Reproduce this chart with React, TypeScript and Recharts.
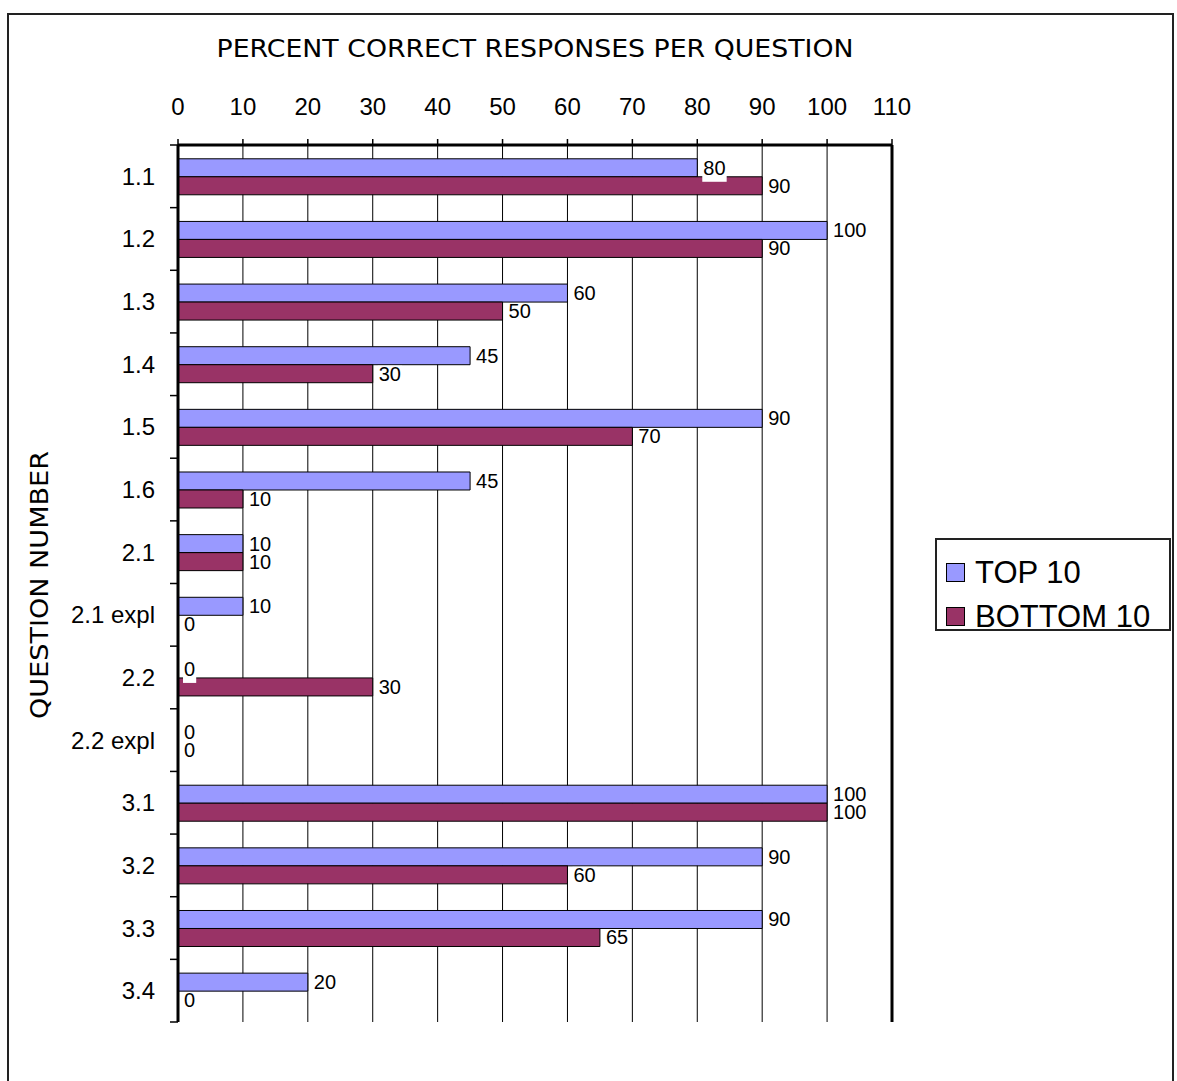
import { BarChart, Bar, XAxis, YAxis, CartesianGrid, LabelList, Legend, ReferenceLine } from 'recharts';

const QUESTIONS = ['1.1', '1.2', '1.3', '1.4', '1.5', '1.6', '2.1', '2.1 expl', '2.2', '2.2 expl', '3.1', '3.2', '3.3', '3.4'];
const TOP_10 = [80, 100, 60, 45, 90, 45, 10, 10, 0, 0, 100, 90, 90, 20];
const BOTTOM_10 = [90, 90, 50, 30, 70, 10, 10, 0, 30, 0, 100, 60, 65, 0];
const X_TICKS = [0, 10, 20, 30, 40, 50, 60, 70, 80, 90, 100, 110];
const SERIES = [
  { key: 'top', name: 'TOP 10', color: '#9999FF' },
  { key: 'bottom', name: 'BOTTOM 10', color: '#993366' },
];

const data = QUESTIONS.map((q, i) => ({ q, top: TOP_10[i], bottom: BOTTOM_10[i] }));

const ARIAL = '"Liberation Sans", Arial, sans-serif';
const TITLE_FONT = '"DejaVu Sans", "Comic Sans MS", sans-serif';

const W = 1177;
const H = 1081;
const LEGEND_W = 236;
const Y_TICK_SIZE = 8;
const Y_TICK_MARGIN = 15;

function QuestionTick(props: any) {
  const { x, y, payload, index } = props;
  const half = payload?.offset ?? 31.3;
  const axisX = x + Y_TICK_MARGIN + Y_TICK_SIZE;
  const last = index === QUESTIONS.length - 1;
  return (
    <g>
      <line x1={axisX - Y_TICK_SIZE} x2={axisX} y1={y - half} y2={y - half} stroke="#000" strokeWidth={1.5} />
      {last && <line x1={axisX - Y_TICK_SIZE} x2={axisX} y1={y + half} y2={y + half} stroke="#000" strokeWidth={1.5} />}
      <text x={x} y={y} dy="0.355em" textAnchor="end" fontFamily={ARIAL} fontSize={24} fill="#000">
        {payload.value}
      </text>
    </g>
  );
}

function ValueLabel(props: any) {
  const { x, y, width, height, value } = props;
  const tx = x + (width || 0) + 6;
  const cy = y + height / 2;
  const w = String(value).length * 11.2;
  return (
    <g>
      <rect x={tx - 1} y={cy - 8} width={w + 2} height={22} fill="#fff" />
      <text x={tx} y={cy + 7} fontFamily={ARIAL} fontSize={20} fill="#000">
        {String(value)}
      </text>
    </g>
  );
}

function LegendBox() {
  return (
    <div
      style={{
        border: '2px solid #222',
        boxSizing: 'border-box',
        width: LEGEND_W,
        height: 93,
        padding: '10px 0 0 9px',
        fontFamily: ARIAL,
        fontSize: 31,
        color: '#000',
        background: '#fff',
      }}
    >
      {SERIES.map((s) => (
        <div key={s.key} style={{ display: 'flex', alignItems: 'center', height: 44 }}>
          <span
            style={{
              display: 'inline-block',
              width: 17,
              height: 17,
              background: s.color,
              border: '1.5px solid #000',
              marginRight: 10,
            }}
          />
          <span style={{ lineHeight: '31px' }}>{s.name}</span>
        </div>
      ))}
    </div>
  );
}

export default function App() {
  return (
    <div style={{ position: 'relative', width: W, height: H, background: '#fff', overflow: 'hidden' }}>
      <style>{'body{margin:0}'}</style>
      <div
        style={{
          position: 'absolute',
          left: 7,
          top: 13,
          width: 1167,
          height: 1068,
          boxSizing: 'border-box',
          borderLeft: '2px solid #222',
          borderTop: '2px solid #222',
          borderRight: '2px solid #222',
          pointerEvents: 'none',
        }}
      />
      <BarChart
        width={W}
        height={H}
        data={data}
        layout="vertical"
        margin={{ top: 105, right: 285 - LEGEND_W, bottom: 59, left: 78 }}
        barCategoryGap="22%"
        barGap={0}
      >
        <CartesianGrid horizontal={false} vertical stroke="#000" strokeWidth={1} />
        <XAxis
          type="number"
          orientation="top"
          domain={[0, 110]}
          ticks={X_TICKS}
          interval={0}
          height={40}
          tickSize={6}
          tickMargin={24}
          axisLine={{ stroke: '#000', strokeWidth: 3 }}
          tickLine={{ stroke: '#000', strokeWidth: 1.5 }}
          tick={{ fontFamily: ARIAL, fontSize: 24, fill: '#000' }}
        />
        <XAxis
          xAxisId="frame"
          type="number"
          orientation="bottom"
          domain={[0, 110]}
          height={0}
          tick={false}
          tickLine={false}
          axisLine={{ stroke: '#000', strokeWidth: 3 }}
        />
        <YAxis
          type="category"
          dataKey="q"
          width={100}
          interval={0}
          tickSize={Y_TICK_SIZE}
          tickMargin={Y_TICK_MARGIN}
          tickLine={false}
          axisLine={{ stroke: '#000', strokeWidth: 3 }}
          tick={<QuestionTick />}
        />
        <ReferenceLine x={110} stroke="#000" strokeWidth={3} />
        {SERIES.map((s) => (
          <Bar
            key={s.key}
            dataKey={s.key}
            name={s.name}
            fill={s.color}
            stroke="#000"
            strokeWidth={1}
            minPointSize={0.01}
            isAnimationActive={false}
          >
            <LabelList dataKey={(d: any) => String(d[s.key])} content={<ValueLabel />} />
          </Bar>
        ))}
        <Legend
          layout="horizontal"
          verticalAlign="middle"
          align="right"
          content={<LegendBox />}
          wrapperStyle={{ left: 935, top: 538, right: 'auto', bottom: 'auto', width: LEGEND_W, height: 93 }}
        />
      </BarChart>
      <svg
        width={W}
        height={H}
        style={{ position: 'absolute', left: 0, top: 0, pointerEvents: 'none' }}
      >
        <text
          x={535}
          y={57}
          textAnchor="middle"
          fontFamily={TITLE_FONT}
          fontSize={25}
          textLength={637}
          lengthAdjust="spacingAndGlyphs"
          fill="#000"
        >
          PERCENT CORRECT RESPONSES PER QUESTION
        </text>
        <text
          x={48}
          y={585}
          textAnchor="middle"
          transform="rotate(-90, 48, 585)"
          fontFamily={TITLE_FONT}
          fontSize={25}
          textLength={268}
          lengthAdjust="spacingAndGlyphs"
          fill="#000"
        >
          QUESTION NUMBER
        </text>
      </svg>
    </div>
  );
}
